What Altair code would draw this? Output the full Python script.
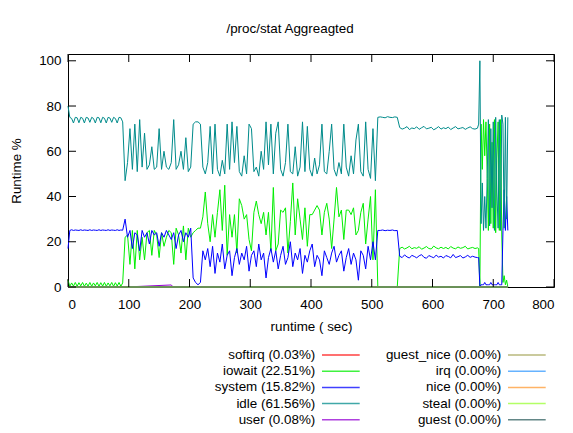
import altair as alt
import pandas as pd

# ---------------- data ----------------
# sample times (seconds) of each segment
t_a = list(range(0, 91, 3))      # steady phase
t_b = list(range(94, 511, 4))    # noisy phase
t_c = list(range(514, 543, 4))   # plateau
t_d = list(range(546, 675, 4))   # second steady phase
t_e = list(range(676, 725, 2))   # final burst

idle_a = [80, 75, 74.5, 72.5, 75, 74.8, 72.6, 75, 74.6, 72.5, 75, 74.7, 72.8, 75, 74.5, 72.5,
          75, 74.8, 72.6, 75, 74.6, 72.5, 75, 74.7, 72.8, 75, 74.5, 72.5, 75, 74.8, 73]
system_a = [17, 25, 25.3, 25, 25.2, 25.1, 25, 25.3, 25, 25.2, 25.1, 25, 25.3, 25, 25.2, 25.1,
            25, 25.3, 25, 25.2, 25.1, 25, 25.3, 25, 25.2, 25.1, 25, 25.3, 25, 25.2, 25.1]
iowait_a = [3, 0.3, 1.8, 0.4, 2, 0.3, 1.9, 0.5, 2, 0.3, 1.7, 0.4, 2, 0.3, 1.8, 0.5,
            2, 0.3, 1.9, 0.4, 2, 0.3, 1.8, 0.5, 2, 0.3, 1.9, 0.4, 2, 0.3, 1.8]

idle_b = [47, 55, 70, 52, 72, 51, 74, 53, 68, 52, 54, 62, 52, 53, 70,
          52, 60, 53, 52, 55, 74, 52, 54, 60, 52, 66, 51, 53, 72, 73,
          73, 72, 53, 50, 55, 71, 50, 72, 52, 49, 56, 50, 72, 52, 73,
          55, 71, 51, 49, 58, 50, 72, 70, 51, 53, 49, 60, 52, 73, 54,
          72, 50, 68, 73, 52, 49, 55, 72, 51, 50, 62, 49, 53, 73, 51,
          71, 52, 49, 57, 50, 54, 72, 51, 50, 60, 72, 52, 49, 55, 50,
          72, 53, 49, 58, 50, 65, 72, 51, 49, 73, 52, 48, 70, 47, 75]
system_b = [30, 22, 25, 17, 24, 23, 16, 25, 22, 24, 19, 25, 23, 24, 18,
            24, 22, 25, 23, 21, 24, 17, 23, 25, 20, 24, 22, 26, 4, 2,
            1, 2, 16, 12, 17, 9, 18, 6, 15, 11, 19, 8, 14, 16, 5,
            13, 17, 10, 15, 12, 18, 7, 14, 16, 9, 19, 12, 15, 4, 13,
            17, 11, 16, 8, 14, 18, 10, 13, 20, 9, 15, 12, 17, 6, 14,
            11, 16, 19, 9, 14, 12, 5, 16, 13, 10, 15, 18, 11, 14, 16,
            7, 13, 17, 10, 15, 12, 3, 16, 14, 8, 18, 12, 20, 12, 25]
iowait_b = [22, 23, 10, 25, 8, 25, 12, 22, 12, 24, 25, 14, 25, 23, 13,
            24, 18, 22, 25, 24, 10, 26, 23, 15, 27, 12, 26, 22, 24, 25,
            26, 26, 31, 42, 28, 20, 32, 22, 33, 43, 25, 45, 14, 32, 22,
            32, 15, 39, 36, 30, 32, 21, 16, 33, 38, 32, 28, 33, 23, 33,
            16, 44, 16, 19, 34, 33, 35, 15, 29, 46, 23, 39, 30, 21, 35,
            18, 32, 32, 34, 36, 34, 23, 33, 37, 30, 17, 30, 44, 31, 34,
            21, 34, 34, 32, 35, 23, 25, 33, 37, 19, 30, 40, 12, 43, 0]

idle_c = [75.2, 75, 74.8, 75.3, 75, 74.9, 75.2, 75]
system_c = [25, 25.2, 24.9, 25.1, 25, 25.2, 24.9, 25]
iowait_c = [0, 0, 0, 0, 0, 0, 0, 0]

idle_d = [70.5, 69.8, 70.2, 70.9, 69.6, 70.3, 70.0, 70.8, 69.7, 70.4, 71.0, 69.9, 70.2, 70.6, 69.5, 70.1, 70.9,
          69.8, 70.4, 70.0, 70.7, 69.6, 70.3, 70.9, 69.9, 70.2, 70.5, 69.7, 70.3, 70.8, 70.0, 69.8, 70.2]
iowait_d = [17.0, 17.6, 16.8, 17.3, 18.0, 16.9, 17.4, 17.1, 17.8, 16.7, 17.2, 17.9, 17.0, 16.8, 18.1, 17.3, 16.9,
            17.6, 17.0, 17.5, 16.8, 17.9, 17.2, 16.9, 17.7, 17.1, 17.4, 18.0, 16.8, 17.2, 17.5, 17.0, 17.3]
system_d = [13.6, 13.0, 14.2, 13.3, 12.8, 14.0, 13.5, 12.9, 13.8, 14.3, 13.1, 12.7, 13.9, 13.4, 12.9, 14.1, 13.2,
            13.6, 12.8, 13.9, 13.5, 12.9, 14.4, 13.0, 13.4, 13.9, 12.8, 13.3, 14.0, 13.1, 13.6, 13.2, 13.0]

idle_e = [72, 100, 28, 46, 25, 40, 26, 48, 74, 27, 70, 35, 73, 25, 75, 42, 26, 74, 25, 76, 72, 26, 75, 30, 75]
iowait_e = [17, 0, 72, 52, 74, 58, 73, 50, 25, 72, 28, 64, 26, 74, 24, 57, 73, 25, 74, 23, 2, 5, 1, 3, 0]
system_e = [13, 0, 1, 1, 1, 2, 1, 1, 1, 1, 2, 1, 1, 1, 1, 1, 2, 1, 1, 1, 25, 43, 25, 40, 25]

softirq_t = [0, 150, 300, 450, 600, 724]
softirq_v = [0.05, 0.02, 0.03, 0.04, 0.02, 0.03]
user_t = [0, 100, 170, 173, 176, 300, 510, 600, 724]
user_v = [0.1, 0.05, 0.9, 0.05, 0.1, 0.05, 0.1, 0.05, 0.1]
zero_t = [0, 724]
zero_v = [0, 0]

series_names = ["softirq", "iowait", "system", "idle", "user",
                "guest_nice", "irq", "nice", "steal", "guest"]
series_pct = ["0.03%", "22.51%", "15.82%", "61.56%", "0.08%",
              "0.00%", "0.00%", "0.00%", "0.00%", "0.00%"]
series_colors = ["#ff0000", "#00ee00", "#0000ff", "#008b8b", "#9400d3",
                 "#a0a050", "#3399ff", "#ff9933", "#99ff33", "#2f5f5f"]

x_ticks = [0, 100, 200, 300, 400, 500, 600, 700, 800]
y_ticks = [0, 20, 40, 60, 80, 100]

# ---------------- build tables ----------------
T_main = t_a + t_b + t_c + t_d + t_e
values = {
    "softirq": (softirq_t, softirq_v),
    "iowait": (T_main, iowait_a + iowait_b + iowait_c + iowait_d + iowait_e),
    "system": (T_main, system_a + system_b + system_c + system_d + system_e),
    "idle": (T_main, idle_a + idle_b + idle_c + idle_d + idle_e),
    "user": (user_t, user_v),
    "guest_nice": (zero_t, zero_v),
    "irq": (zero_t, zero_v),
    "nice": (zero_t, zero_v),
    "steal": (zero_t, zero_v),
    "guest": (zero_t, zero_v),
}

W, H = 486, 233
FONT = "Liberation Sans"
FS = 13.4

xs = alt.Scale(domain=[0, 800], nice=False, zero=False)
ys = alt.Scale(domain=[0, 103], nice=False)
x_axis = alt.Axis(title="runtime ( sec)", values=x_ticks, labelPadding=10, titlePadding=9,
                  grid=False, ticks=False, domain=False)
y_axis = alt.Axis(title="Runtime %", values=y_ticks, labelPadding=7, titlePadding=15,
                  grid=False, ticks=False, domain=False)

lines = []
for name, color in zip(series_names, series_colors):
    tt, vv = values[name]
    df = pd.DataFrame({"t": tt, "v": vv})
    lines.append(
        alt.Chart(df).mark_line(strokeWidth=1, color=color, interpolate="linear").encode(
            x=alt.X("t:Q", scale=xs, axis=x_axis),
            y=alt.Y("v:Q", scale=ys, axis=y_axis),
        )
    )

xt_df = pd.DataFrame({"t": x_ticks})
yt_df = pd.DataFrame({"v": y_ticks})
tick_top = alt.Chart(xt_df).mark_rule(color="black", strokeWidth=1).encode(
    x=alt.X("t:Q", scale=xs, axis=x_axis), y=alt.value(0), y2=alt.value(8))
tick_bot = alt.Chart(xt_df).mark_rule(color="black", strokeWidth=1).encode(
    x=alt.X("t:Q", scale=xs, axis=x_axis), y=alt.value(H - 8), y2=alt.value(H))
tick_left = alt.Chart(yt_df).mark_rule(color="black", strokeWidth=1).encode(
    y=alt.Y("v:Q", scale=ys, axis=y_axis), x=alt.value(0), x2=alt.value(8))
tick_right = alt.Chart(yt_df).mark_rule(color="black", strokeWidth=1).encode(
    y=alt.Y("v:Q", scale=ys, axis=y_axis), x=alt.value(W - 8), x2=alt.value(W))

main = alt.layer(*lines, tick_top, tick_bot, tick_left, tick_right)

# ---------------- custom legend (two columns, label left of line) ----------------
leg_col = [0, 0, 0, 0, 0, 1, 1, 1, 1, 1]
leg_row = [0, 1, 2, 3, 4, 0, 1, 2, 3, 4]
leg_df = pd.DataFrame({
    "name": series_names,
    "label": [f"{n} ({p})" for n, p in zip(series_names, series_pct)],
    "col": leg_col,
    "row": leg_row,
})
lx = alt.Scale(domain=[0, 1], range=[247.3, 433.3])
ly = alt.Scale(domain=[0, 4], range=[301, 365.8])
leg_text = alt.Chart(leg_df).mark_text(align="right", baseline="middle", fontSize=FS,
                                       font=FONT, color="#000").encode(
    x=alt.X("col:Q", scale=lx, axis=None),
    y=alt.Y("row:Q", scale=ly, axis=None),
    text="label:N",
)
leg_line = alt.Chart(leg_df).mark_rule(xOffset=6.7, x2Offset=44.4, strokeWidth=1.5, opacity=0.75).encode(
    x=alt.X("col:Q", scale=lx, axis=None),
    x2="col:Q",
    y=alt.Y("row:Q", scale=ly, axis=None),
    color=alt.Color("name:N", scale=alt.Scale(domain=series_names, range=series_colors), legend=None),
)
legend = alt.layer(leg_text, leg_line)

chart = alt.layer(main, legend).resolve_scale(x="independent", y="independent").properties(
    width=W, height=H,
    title=alt.TitleParams("/proc/stat Aggreagted", fontSize=FS, fontWeight="normal", font=FONT,
                          anchor="middle", frame="bounds", offset=18, dx=8, color="#000"),
    padding={"left": 1, "top": 14, "right": 0, "bottom": 0},
).configure(font=FONT).configure_view(stroke="black", strokeWidth=1).configure_axis(
    labelFont=FONT, titleFont=FONT, labelFontSize=FS, titleFontSize=FS, titleFontWeight="normal",
    labelColor="#000", titleColor="#000", ticks=False, domain=False, grid=False, tickSize=0,
)

chart.save("out.html", embed_options={"renderer": "svg", "actions": False})
